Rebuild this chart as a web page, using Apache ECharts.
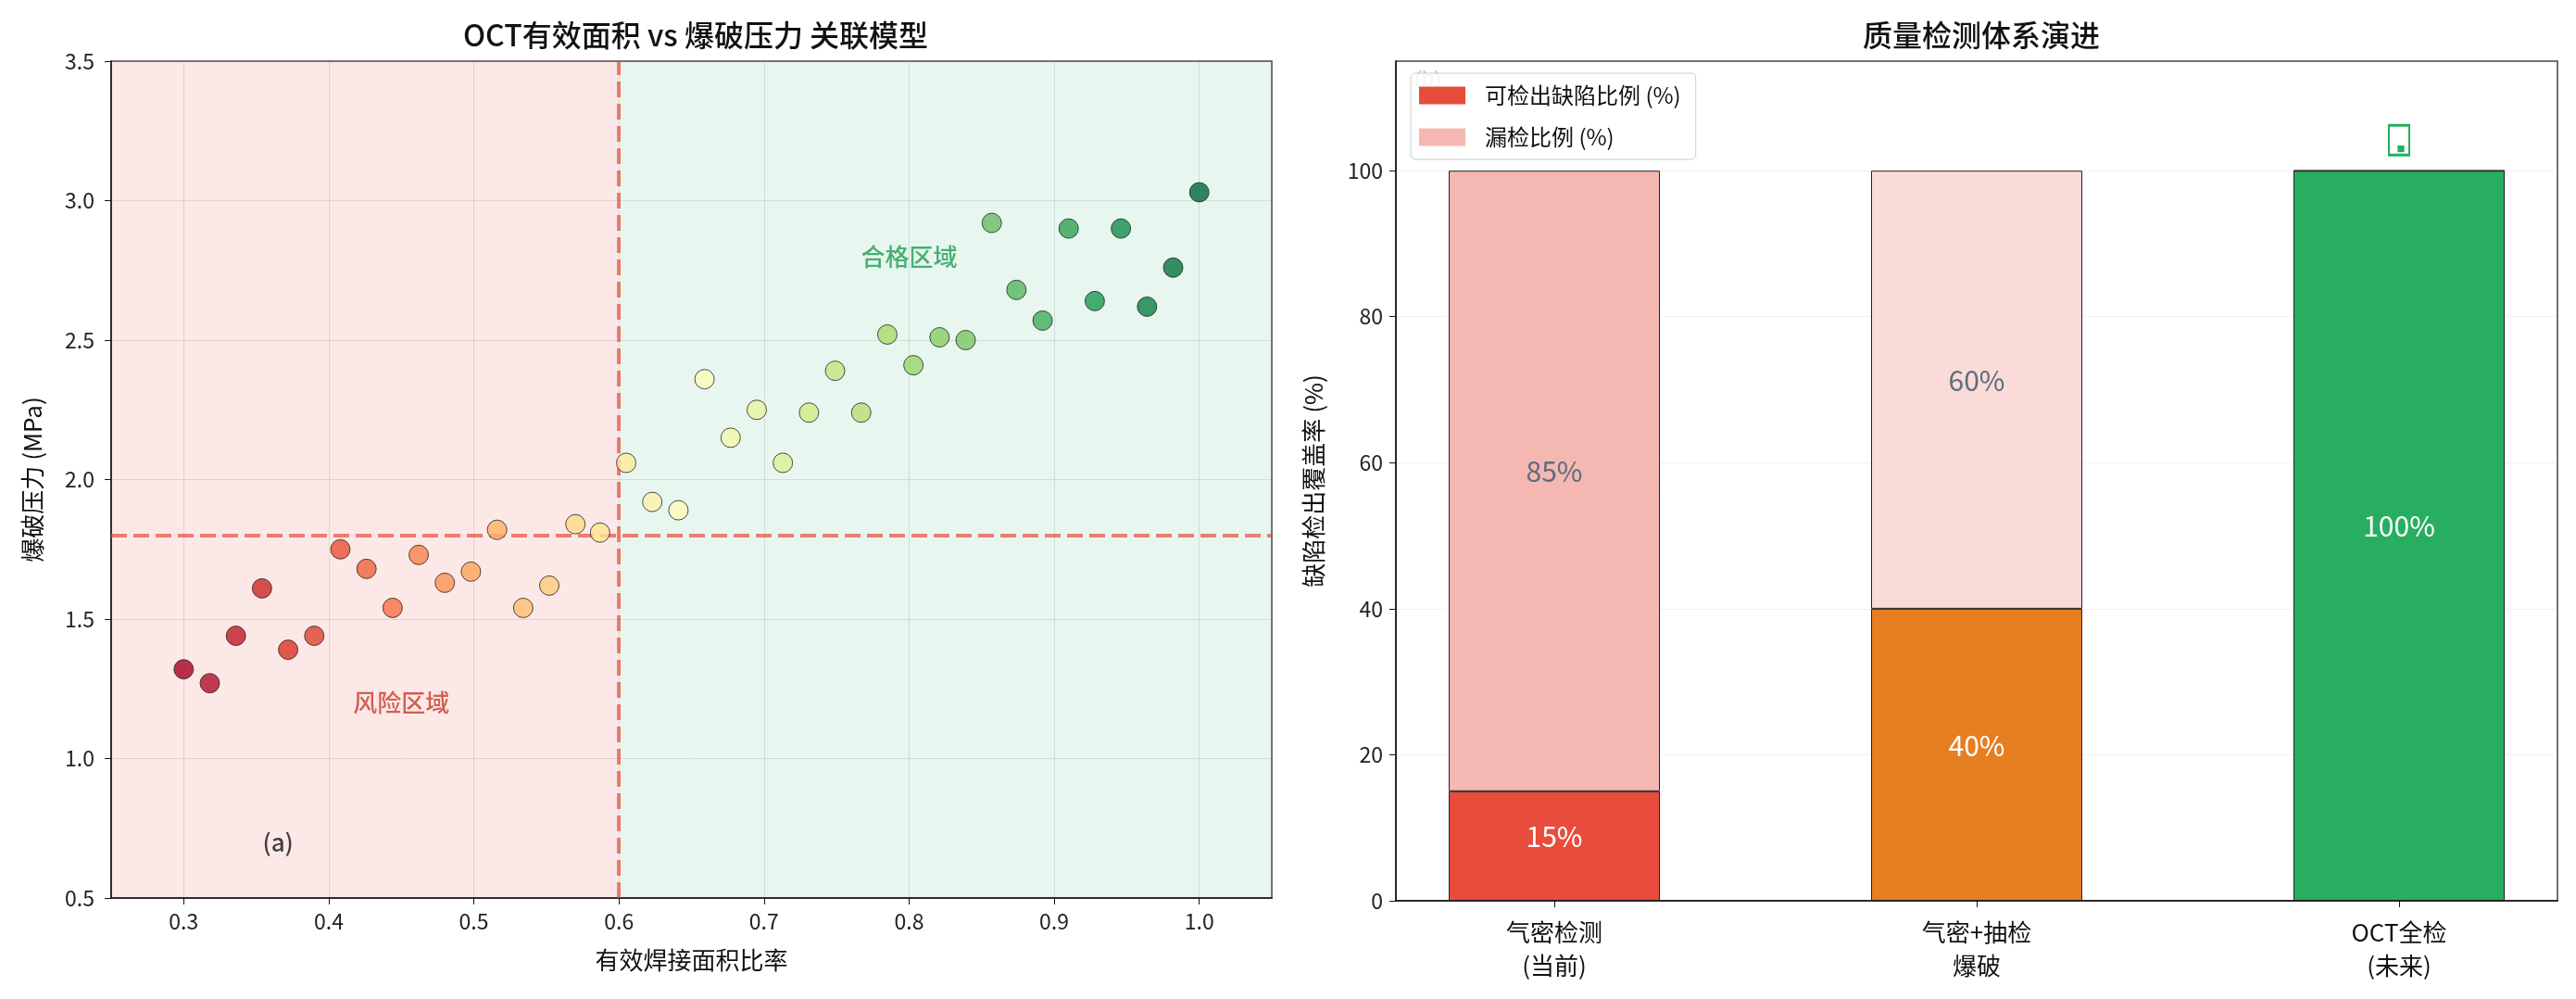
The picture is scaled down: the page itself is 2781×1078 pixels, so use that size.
<!DOCTYPE html>
<html>
<head>
<meta charset="utf-8">
<script src="https://cdn.jsdelivr.net/npm/echarts@6/dist/echarts.min.js"></script>
<style>
  html, body { margin: 0; padding: 0; background: #fff; }
  #chart { width: 2781px; height: 1078px; }
</style>
</head>
<body>
<div id="chart"></div>
<script>
// left panel: effective weld area ratio vs burst pressure
const areaRatio = [0.300, 0.318, 0.336, 0.354, 0.372, 0.390, 0.408, 0.426, 0.444, 0.462,
  0.480, 0.498, 0.516, 0.534, 0.552, 0.570, 0.587, 0.605, 0.623, 0.641,
  0.659, 0.677, 0.695, 0.713, 0.731, 0.749, 0.767, 0.785, 0.803, 0.821,
  0.839, 0.857, 0.874, 0.892, 0.910, 0.928, 0.946, 0.964, 0.982, 1.000]
const burstPressure = [1.32, 1.27, 1.44, 1.61, 1.39, 1.44, 1.75, 1.68, 1.54, 1.73,
  1.63, 1.67, 1.82, 1.54, 1.62, 1.84, 1.81, 2.06, 1.92, 1.89,
  2.36, 2.15, 2.25, 2.06, 2.24, 2.39, 2.24, 2.52, 2.41, 2.51,
  2.50, 2.92, 2.68, 2.57, 2.90, 2.64, 2.90, 2.62, 2.76, 3.03]
const areaThreshold = 0.6
const pressureThreshold = 1.8

// right panel: inspection system evolution
const stages = ['气密检测\n(当前)', '气密+抽检\n爆破', 'OCT全检\n(未来)']
const detected = [15, 40, 100]
const missed = [85, 60, 0]
const detectedColors = ['#e74c3c', '#e67e22', '#27ae60']
const missedColors = ['#f5b7b1', '#fadbd8', '#fadbd8']

const FONT = "'Noto Sans CJK SC', 'Noto Sans', sans-serif"
const RdYlGn = ['#a50026', '#d73027', '#f46d43', '#fdae61', '#fee08b', '#ffffbf',
  '#d9ef8b', '#a6d96a', '#66bd63', '#1a9850', '#006837']

// right frame spans x in [-0.375, 2.375]; the bar grid runs from category 0 to category 2
const frameLeft = 1507
const frameW = 1254
const unitPx = frameW / 2.75
const barGridLeft = frameLeft + 0.375 * unitPx
const barGridW = 2 * unitPx

var myChart = echarts.init(document.getElementById('chart'), null, { renderer: 'canvas' })

const tickLabel = { fontSize: 23, color: '#222', fontFamily: FONT }
const axisNameStyle = { fontSize: 26, color: '#111', fontFamily: FONT }
const darkLine = { color: '#111', width: 1.5 }

var option = {
  animation: false,
  backgroundColor: '#fff',
  textStyle: { fontFamily: FONT },
  title: [
    {
      text: 'OCT有效面积 vs 爆破压力 关联模型',
      left: 746, top: 17, textAlign: 'center',
      textStyle: { fontSize: 32, fontWeight: 500, color: '#111', fontFamily: FONT },
    },
    {
      text: '质量检测体系演进',
      left: 2134, top: 17, textAlign: 'center',
      textStyle: { fontSize: 32, fontWeight: 500, color: '#111', fontFamily: FONT },
    },
  ],
  grid: [
    { left: 120, top: 66, width: 1253, height: 903, show: true, borderColor: '#444', borderWidth: 1.5, backgroundColor: 'transparent' },
    { left: frameLeft, top: 66, width: frameW, height: 906, show: true, borderColor: '#444', borderWidth: 1.5, backgroundColor: 'transparent' },
    { left: barGridLeft, top: 66, width: barGridW, height: 906, show: false },
  ],
  xAxis: [
    {
      gridIndex: 0, type: 'value', min: 0.25, max: 1.05, splitNumber: 8,
      name: '有效焊接面积比率', nameLocation: 'middle', nameGap: 54, nameTextStyle: axisNameStyle,
      axisLine: { onZero: false, lineStyle: darkLine },
      axisTick: { length: 7, lineStyle: { color: '#111' } },
      axisLabel: Object.assign({ margin: 14, showMinLabel: false, showMaxLabel: false,
        formatter: (v) => v.toFixed(1) }, tickLabel),
      splitLine: { lineStyle: { color: 'rgba(120,120,120,0.2)', width: 1 } },
    },
    {
      // frame axis of the right panel: line only
      gridIndex: 1, type: 'value', min: 0, max: 1,
      axisLine: { onZero: false, lineStyle: darkLine },
      axisTick: { show: false }, axisLabel: { show: false }, splitLine: { show: false },
    },
    {
      gridIndex: 2, type: 'category', data: stages, boundaryGap: false,
      axisLine: { show: false },
      axisTick: { show: true, length: 7, lineStyle: { color: '#111' } },
      axisLabel: { margin: 16, lineHeight: 36, fontSize: 26, color: '#111', fontFamily: FONT },
      splitLine: { show: false },
    },
  ],
  yAxis: [
    {
      gridIndex: 0, type: 'value', min: 0.5, max: 3.5, interval: 0.5,
      name: '爆破压力 (MPa)', nameLocation: 'middle', nameGap: 72, nameTextStyle: axisNameStyle,
      axisLine: { show: true, onZero: false, lineStyle: darkLine },
      axisTick: { show: true, length: 7, lineStyle: { color: '#111' } },
      axisLabel: Object.assign({ margin: 18, formatter: (v) => v.toFixed(1) }, tickLabel),
      splitLine: { lineStyle: { color: 'rgba(120,120,120,0.2)', width: 1 } },
    },
    {
      gridIndex: 1, type: 'value', min: 0, max: 115, interval: 20,
      name: '缺陷检出覆盖率 (%)', nameLocation: 'middle', nameGap: 76, nameTextStyle: axisNameStyle,
      axisLine: { show: true, onZero: false, lineStyle: darkLine },
      axisTick: { show: true, length: 7, lineStyle: { color: '#111' } },
      axisLabel: Object.assign({ margin: 14, showMaxLabel: false }, tickLabel),
      splitLine: { lineStyle: { color: 'rgba(120,120,120,0.1)', width: 1 } },
    },
    {
      gridIndex: 2, type: 'value', min: 0, max: 115, show: false,
    },
  ],
  visualMap: {
    show: false, type: 'continuous', seriesIndex: 0, dimension: 0,
    min: 0.3, max: 1.0, inRange: { color: RdYlGn },
  },
  legend: {
    data: ['可检出缺陷比例 (%)', '漏检比例 (%)'],
    orient: 'vertical', left: 1523, top: 79, z: 10,
    itemWidth: 50, itemHeight: 19, itemGap: 21,
    padding: [12, 16, 12, 9],
    backgroundColor: 'rgba(255,255,255,0.8)', borderColor: '#ccc', borderWidth: 1, borderRadius: 5,
    icon: 'rect',
    itemStyle: { borderWidth: 0 },
    textStyle: { fontSize: 24, color: '#111', fontFamily: FONT, padding: [0, 0, 0, 16] },
  },
  graphic: [
    { type: 'text', left: 1527, top: 74, z: 0, style: { text: '(b)', fontSize: 24, fill: '#c8c8c8', font: '24px ' + FONT } },
  ],
  series: [
    {
      name: 'samples', type: 'scatter', xAxisIndex: 0, yAxisIndex: 0, z: 5,
      symbolSize: 21,
      itemStyle: { opacity: 0.8, borderColor: '#222', borderWidth: 1 },
      data: areaRatio.map((x, i) => [x, burstPressure[i]]),
    },
    {
      name: 'zones', type: 'scatter', xAxisIndex: 0, yAxisIndex: 0, z: 2,
      symbolSize: 0, silent: true,
      data: [[areaThreshold, pressureThreshold]],
      markArea: {
        silent: true,
        data: [
          [{ xAxis: 0.25, itemStyle: { color: 'rgba(231,76,60,0.12)' } }, { xAxis: areaThreshold }],
          [{ xAxis: areaThreshold, itemStyle: { color: 'rgba(39,174,96,0.11)' } }, { xAxis: 1.05 }],
        ],
      },
      markLine: {
        silent: true, symbol: ['none', 'none'],
        label: { show: false },
        lineStyle: { type: [17, 7], color: 'rgba(231,76,60,0.7)', width: 4 },
        data: [{ xAxis: areaThreshold }, { yAxis: pressureThreshold }],
      },
    },
    {
      name: 'notes', type: 'scatter', xAxisIndex: 0, yAxisIndex: 0, z: 6,
      symbolSize: 0, silent: true,
      data: [
        { value: [0.45, 1.2], label: { formatter: '风险区域', color: '#c93a2c' } },
        { value: [0.8, 2.8], label: { formatter: '合格区域', color: '#1f9e55' } },
        { value: [0.365, 0.7], label: { formatter: '(a)', color: '#111' } },
      ],
      label: { show: true, position: 'inside', fontSize: 26, fontWeight: 500, fontFamily: FONT },
    },
    {
      name: '可检出缺陷比例 (%)', type: 'bar', xAxisIndex: 2, yAxisIndex: 2, stack: 'total',
      barWidth: '50%', z: 3, clip: false,
      itemStyle: { color: detectedColors[0], borderColor: '#222', borderWidth: 1 },
      data: detected.map((v, i) => ({ value: v, itemStyle: { color: detectedColors[i] } })),
      label: {
        show: true, position: 'inside', offset: [0, -10], color: '#fff', fontSize: 30,
        fontFamily: FONT, formatter: (p) => p.value + '%',
      },
      markPoint: {
        silent: true,
        symbol: 'rect', symbolSize: [22, 32], symbolOffset: [0, -33],
        itemStyle: { color: 'rgba(255,255,255,0)', borderColor: '#27ae60', borderWidth: 2.5 },
        label: { show: true, formatter: '■', fontSize: 9, color: '#27ae60', offset: [2, 9] },
        data: [{ coord: [2, 100] }],
      },
    },
    {
      name: '漏检比例 (%)', type: 'bar', xAxisIndex: 2, yAxisIndex: 2, stack: 'total',
      barWidth: '50%', z: 3, clip: false,
      itemStyle: { color: missedColors[0], borderColor: '#222', borderWidth: 1 },
      data: missed.map((v, i) => ({ value: v, itemStyle: { color: missedColors[i] } })),
      label: {
        show: true, position: 'inside', offset: [0, -10], color: '#5d6d7e', fontSize: 30,
        fontFamily: FONT, formatter: (p) => (p.value > 0 ? p.value + '%' : ''),
      },
    },
  ],
}
myChart.setOption(option)
</script>
</body>
</html>
